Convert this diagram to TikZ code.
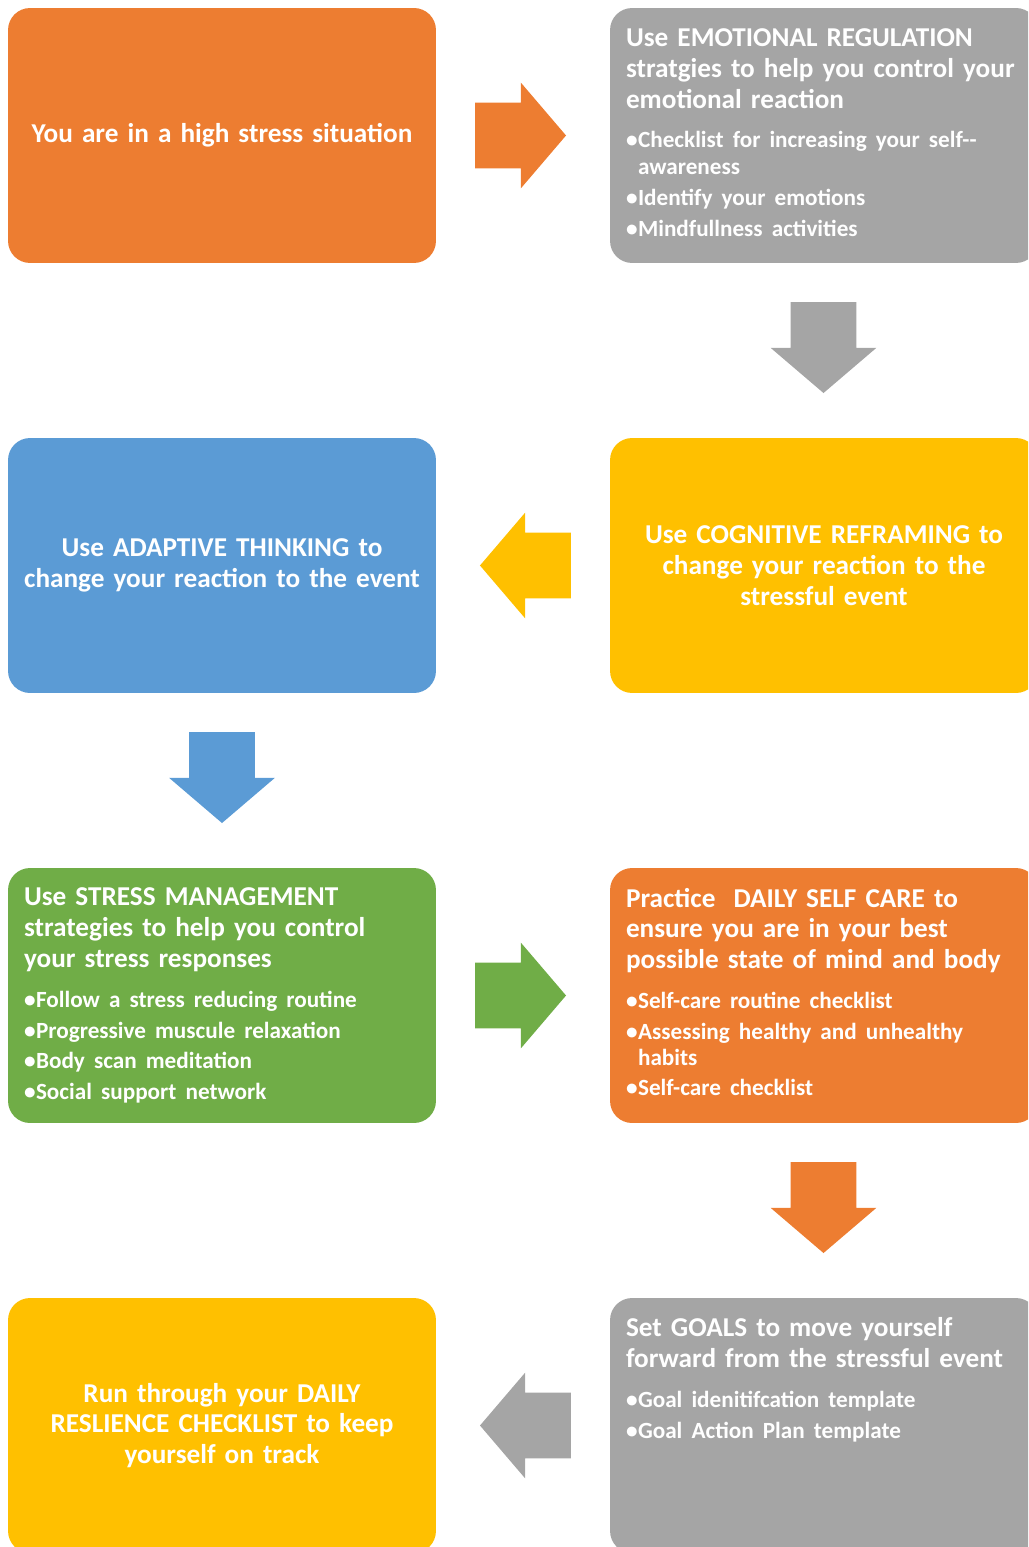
\documentclass[tikz,border=0pt]{standalone}
\usepackage{fontspec}
\setmainfont{Carlito}
\usetikzlibrary{shapes.arrows}

\definecolor{stressorange}{HTML}{ED7D31}
\definecolor{stressgrey}{HTML}{A5A5A5}
\definecolor{stressyellow}{HTML}{FFC000}
\definecolor{stressblue}{HTML}{5B9BD5}
\definecolor{stressgreen}{HTML}{70AD47}

% heading and bullet sizes
\newcommand{\hdsize}{\fontsize{15.5}{17.6}\selectfont}
\newcommand{\blsize}{\fontsize{13.2}{15.3}\selectfont}
\newcommand{\itm}{\makebox[0.24cm][l]{\textbullet}}
\newcommand{\ind}{\hspace*{0.24cm}}

\begin{document}
\begin{tikzpicture}[x=0.02cm,y=-0.02cm,
    box/.style={rectangle, rounded corners=0.44cm, minimum width=8.56cm,
      minimum height=5.1cm, inner xsep=0.32cm, inner ysep=0pt,
      text width=7.92cm, text=white, font=\bfseries\hdsize, align=left},
    cbox/.style={box, inner xsep=0.13cm, text width=8.3cm, align=center},
    blockarrow/.style={single arrow, single arrow head extend=0.4cm,
      single arrow tip angle=99, minimum height=1.82cm,
      inner xsep=0pt, inner ysep=0.65cm}
  ]
\useasboundingbox (0,0) rectangle (1028,1547);
\clip (0,0) rectangle (1028,1547);

% left column
\node[cbox, fill=stressorange] (stress) at (222,135.5) {You are in a high stress situation};
\node[cbox, fill=stressblue] (adaptive) at (222,565.5) {Use ADAPTIVE THINKING to\\ change your reaction to the event};
\node[box, fill=stressgreen] (manage) at (222,995.5) {%
  Use STRESS MANAGEMENT\\ strategies to help you control\\ your stress responses\par
  \vspace{7.4pt}{\blsize\itm Follow a stress reducing routine\par
  \vspace{2.3pt}\itm Progressive muscule relaxation\par
  \vspace{2.3pt}\itm Body scan meditation\par
  \vspace{2.3pt}\itm Social support network\par}};
\node[cbox, fill=stressyellow] (checklist) at (222,1425.5) {Run through your DAILY\\ RESLIENCE CHECKLIST to keep\\ yourself on track};

% right column
\node[box, fill=stressgrey] (emotion) at (824,135.5) {%
  Use EMOTIONAL REGULATION\\ stratgies to help you control your\\ emotional reaction\par
  \vspace{7pt}{\blsize\itm Checklist for increasing your self-{}-\\\ind awareness\par
  \vspace{2.3pt}\itm Identify your emotions\par
  \vspace{2.3pt}\itm Mindfullness activities\par}
  \vspace*{0.1cm}};
\node[cbox, fill=stressyellow] (reframe) at (824,565.5) {Use COGNITIVE REFRAMING to\\ change your reaction to the\\ stressful event};
\node[box, fill=stressorange] (selfcare) at (824,995.5) {%
  Practice\ \ DAILY SELF CARE to\\ ensure you are in your best\\ possible state of mind and body\par
  \vspace{7pt}{\blsize\itm Self-care routine checklist\par
  \vspace{2.3pt}\itm Assessing healthy and unhealthy\\\ind habits\par
  \vspace{1.8pt}\itm Self-care checklist\par}
  \vspace*{0.14cm}};
\node[box, fill=stressgrey] (goals) at (824,1425.5) {%
  Set GOALS to move yourself\\ forward from the stressful event\par
  \vspace{7.4pt}{\blsize\itm Goal idenitifcation template\par
  \vspace{2.3pt}\itm Goal Action Plan template\par}
  \vspace*{1.84cm}};

% block arrows between the steps
\node[blockarrow, fill=stressorange] (stress-emotion) at (506.5,135.5) {};
\node[blockarrow, fill=stressgrey, rotate=-90] (emotion-reframe) at (823.5,333.5) {};
\node[blockarrow, fill=stressyellow, rotate=180] (reframe-adaptive) at (539.5,565.5) {};
\node[blockarrow, fill=stressblue, rotate=-90] (adaptive-manage) at (222,763.5) {};
\node[blockarrow, fill=stressgreen] (manage-selfcare) at (506.5,995.5) {};
\node[blockarrow, fill=stressorange, rotate=-90] (selfcare-goals) at (823.5,1193.5) {};
\node[blockarrow, fill=stressgrey, rotate=180] (goals-checklist) at (539.5,1425.5) {};
\end{tikzpicture}
\end{document}
